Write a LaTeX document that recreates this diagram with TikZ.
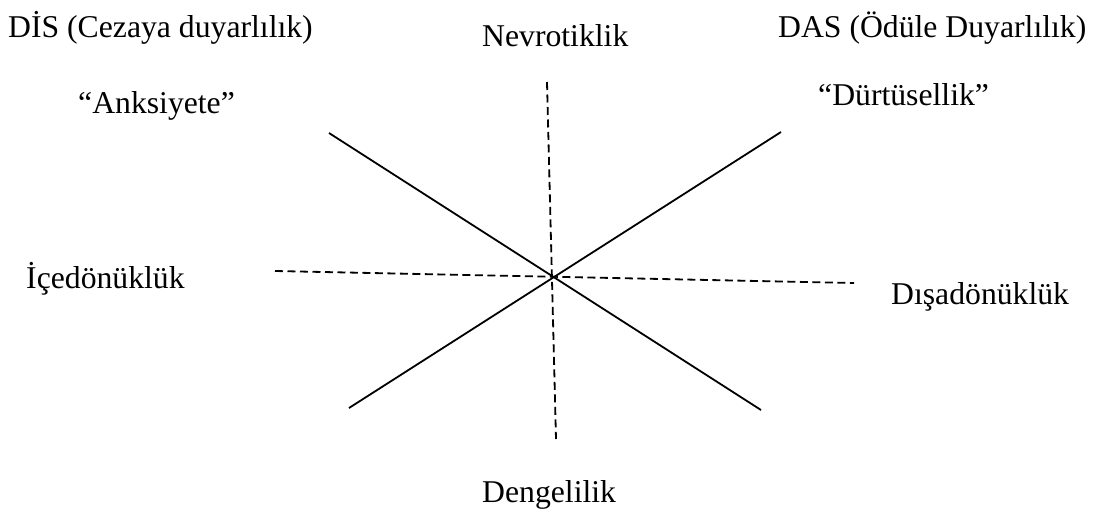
\documentclass[tikz,border=0pt]{standalone}
\usepackage{fontspec}
\setmainfont{Liberation Serif}
\begin{document}
\begin{tikzpicture}[x=1pt,y=-1pt,
  lbl/.style={inner sep=0pt,anchor=base west,font=\fontsize{31.7}{38}\selectfont},
  axisline/.style={line width=1.8pt,black},
  dashaxis/.style={line width=1.8pt,black,dash pattern=on 8pt off 4.5pt}]
\useasboundingbox (0,0) rectangle (1101,515);
\coordinate (a1) at (329,133); \coordinate (a2) at (761,410);
\coordinate (b1) at (349,408); \coordinate (b2) at (781,132);
\coordinate (v1) at (547,82);  \coordinate (v2) at (556,439);
\coordinate (h1) at (275,271); \coordinate (h2) at (854,283);
\draw[axisline] (a1) -- (a2);
\draw[axisline] (b1) -- (b2);
\draw[dashaxis] (v1) -- (v2);
\draw[dashaxis] (h1) -- (h2);
\node[lbl] (dis) at (8,37) {DİS (Cezaya duyarlılık)};
\node[lbl] (das) at (778,37) {DAS (Ödüle Duyarlılık)};
\node[lbl] (nev) at (482,46) {Nevrotiklik};
\node[lbl] (anks) at (78,113) {“Anksiyete”};
\node[lbl] (durt) at (818,105) {“Dürtüsellik”};
\node[lbl] (ice) at (26,288) {İçedönüklük};
\node[lbl] (disa) at (891,304) {Dışadönüklük};
\node[lbl] (deng) at (482,502) {Dengelilik};
\end{tikzpicture}
\end{document}
